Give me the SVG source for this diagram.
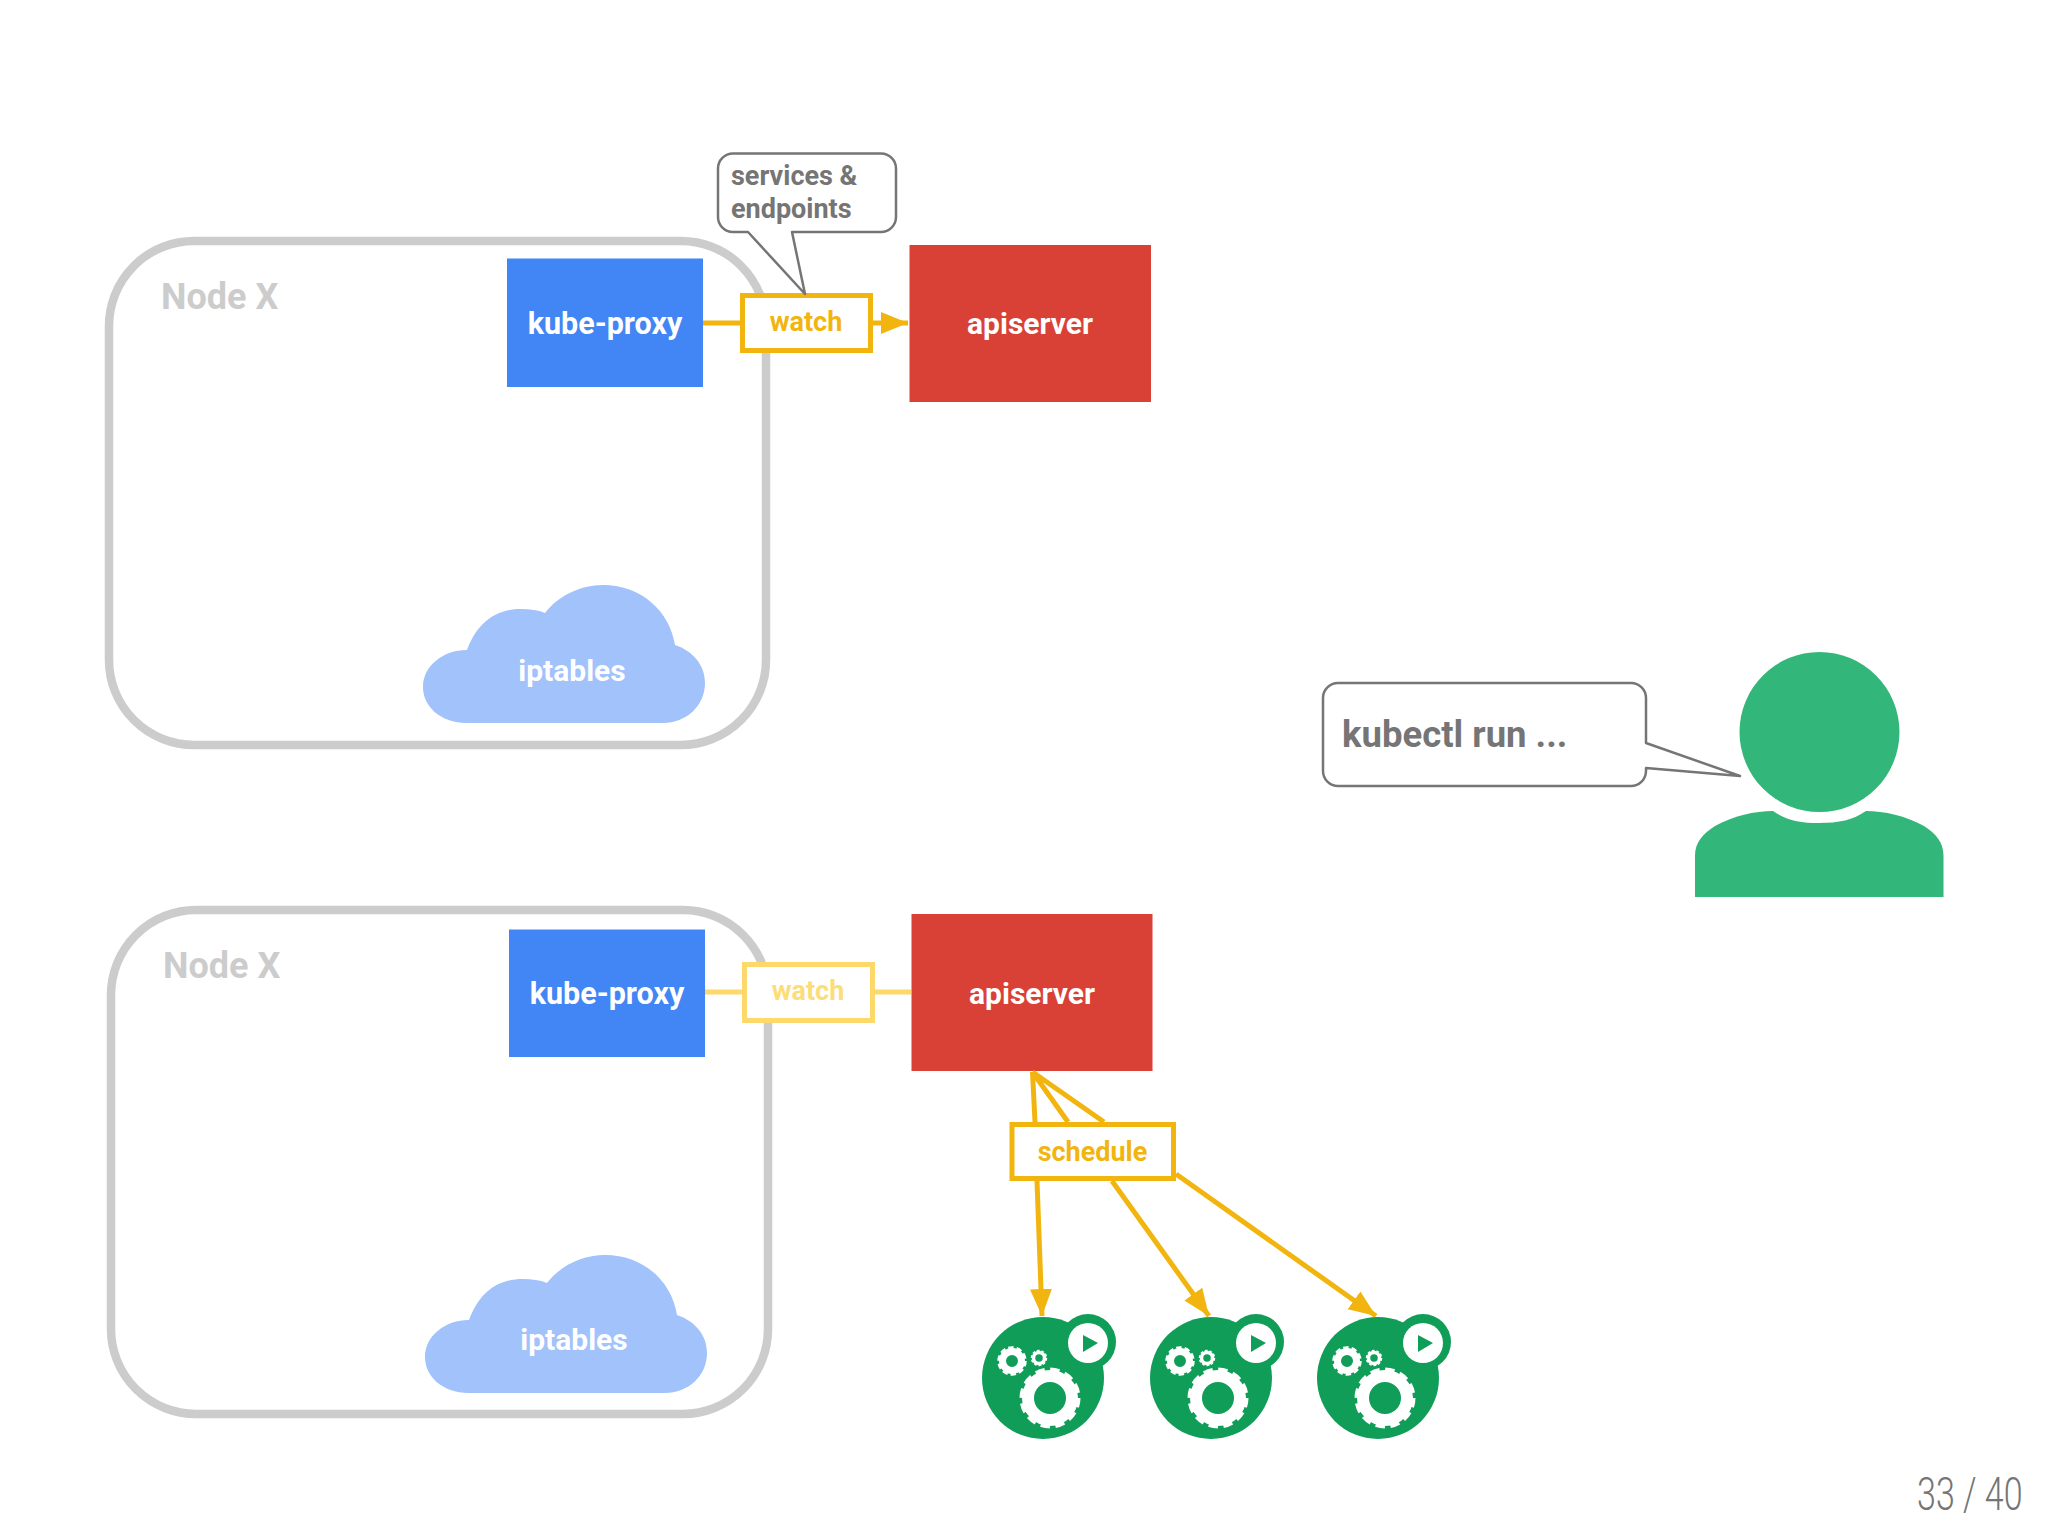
<svg xmlns="http://www.w3.org/2000/svg" xmlns:xlink="http://www.w3.org/1999/xlink" width="2048" height="1537" viewBox="0 0 2048 1537">
<style>
text{font-family:Roboto,"Liberation Sans",sans-serif;font-weight:700}
.frame{fill:none;stroke:#ccc;stroke-width:8.500}
.nodex{fill:#ccc;font-size:36px}
.proxy{fill:#4285f4}
.api{fill:#d94136}
.cloud{fill:#a1c2fa}
.w{fill:#fff;font-size:30px;text-anchor:middle}
.wk{fill:#fff;font-size:30.500px;text-anchor:middle}
.wb{fill:#fff;font-size:30px;text-anchor:middle}
.amber{fill:none;stroke:#f2b50f;stroke-width:5}
.amberbox{fill:#fff;stroke:#f2b50f;stroke-width:5}
.ambert{fill:#f2b50f;font-size:27px;text-anchor:middle}
.pale{fill:none;stroke:#fdd96b;stroke-width:5}
.palebox{fill:#fff;stroke:#fdd96b;stroke-width:5}
.palet{fill:#fddd78;font-size:27px;text-anchor:middle}
.call{fill:#fff;stroke:#757575;stroke-width:2.500;stroke-linejoin:round}
.callt{fill:#757575;font-size:27px}
.gr{fill:none;stroke:#fff}
</style>
<defs>
<marker id="arr" markerUnits="userSpaceOnUse" markerWidth="28" markerHeight="24" refX="27" refY="11" orient="auto"><path d="M0 0L27 11L0 22Z" fill="#f2b50f"/></marker>
<g id="cloudshape"><path class="cloud" d="M467 723C440 723 423 706 423 687C423 666 443 650 467 650C476 626 492 609 521 609C530 609 538 610 545 613C558 596 580 585 603 585C642 585 670 612 675 645C693 651 705 665 705 683C705 706 686 723 663 723Z"/></g>
<g id="pod">
<circle cx="1043" cy="1378" r="61" fill="#0f9d58"/>
<circle cx="1088" cy="1342" r="28" fill="#0f9d58"/>
<circle cx="1088" cy="1343" r="20" fill="#fff"/>
<path d="M1083 1335L1098 1343L1083 1352Z" fill="#0f9d58"/>
<circle class="gr" cx="1050" cy="1398" r="22" stroke-width="12"/>
<circle class="gr" cx="1050" cy="1398" r="28.500" stroke-width="4" stroke-dasharray="9.400 5.520"/>
<circle class="gr" cx="1012" cy="1361" r="9.500" stroke-width="7"/>
<circle class="gr" cx="1012" cy="1361" r="13.500" stroke-width="2.500" stroke-dasharray="5.500 2.980"/>
<circle class="gr" cx="1039" cy="1358" r="5.500" stroke-width="3.500"/>
<circle class="gr" cx="1039" cy="1358" r="7.500" stroke-width="1.500" stroke-dasharray="2.800 1.900"/>
</g>
</defs>
<rect width="2048" height="1537" fill="#fff"/>

<g id="node-x-top">
<rect class="frame" x="109" y="241" width="657" height="504" rx="85"/>
<text class="nodex" x="161" y="309">Node X</text>
</g>
<g id="kube-proxy-top">
<rect class="proxy" x="507" y="258.500" width="196" height="128.500"/>
<text class="wk" x="605" y="334">kube-proxy</text>
</g>
<g id="iptables-top">
<use xlink:href="#cloudshape" href="#cloudshape"/>
<text class="w" x="572" y="681">iptables</text>
</g>
<g id="apiserver-top">
<rect class="api" x="909.500" y="245" width="241.500" height="157"/>
<text class="wb" x="1030" y="334">apiserver</text>
</g>

<g id="node-x-bottom">
<rect class="frame" x="111" y="910" width="657" height="504" rx="85"/>
<text class="nodex" x="163" y="978">Node X</text>
</g>
<g id="kube-proxy-bottom">
<rect class="proxy" x="509" y="929.500" width="196" height="127.500"/>
<text class="wk" x="607" y="1004">kube-proxy</text>
</g>
<g id="iptables-bottom">
<use xlink:href="#cloudshape" href="#cloudshape" x="2" y="670"/>
<text class="w" x="574" y="1350">iptables</text>
</g>
<g id="apiserver-bottom">
<rect class="api" x="911.500" y="914" width="241" height="157"/>
<text class="wb" x="1032" y="1004">apiserver</text>
</g>

<g id="connectors">
<path class="amber" d="M703 323H740"/>
<path class="amber" d="M873 323H908" marker-end="url(#arr)"/>
<path class="pale" d="M705 992H742M875 992H911"/>
<path class="amber" d="M1032.500 1072L1035 1122M1032.500 1072L1068 1122M1032.500 1072L1104 1122"/>
<path class="amber" d="M1037 1181L1042 1316" marker-end="url(#arr)"/>
<path class="amber" d="M1112 1181L1209 1316" marker-end="url(#arr)"/>
<path class="amber" d="M1176 1174L1376 1316" marker-end="url(#arr)"/>
</g>

<g id="watch-top">
<rect class="amberbox" x="742.500" y="295.500" width="128" height="55"/>
<text class="ambert" x="806" y="331">watch</text>
</g>
<g id="watch-bottom">
<rect class="palebox" x="744.500" y="964.500" width="128" height="56"/>
<text class="palet" x="808" y="1000">watch</text>
</g>
<g id="schedule">
<rect class="amberbox" x="1012" y="1124.500" width="161.500" height="54"/>
<text class="ambert" x="1092.500" y="1161">schedule</text>
</g>

<g id="callout-services">
<path class="call" d="M733 153.500H881A15 15 0 0 1 896 168.500V217A15 15 0 0 1 881 232H792L805 294L748 232H733A15 15 0 0 1 718 217V168.500A15 15 0 0 1 733 153.500Z"/>
<text class="callt" x="731" y="185">services &amp;</text>
<text class="callt" x="731" y="218">endpoints</text>
</g>
<g id="callout-kubectl">
<path class="call" d="M1338 683H1631A15 15 0 0 1 1646 698V743L1740 776L1646 768V771A15 15 0 0 1 1631 786H1338A15 15 0 0 1 1323 771V698A15 15 0 0 1 1338 683Z"/>
<text x="1342" y="747" fill="#757575" font-size="36.500">kubectl run ...</text>
</g>
<g id="user">
<circle cx="1819.500" cy="732" r="80" fill="#33b679"/>
<path d="M1695 897V856C1695 842 1703 834 1715 826C1733 816 1755 811 1773 811C1786 820 1800 823 1819 823C1839 823 1853 820 1866 811C1884 811 1906 816 1924 826C1936 834 1943.500 842 1943.500 856V897Z" fill="#33b679"/>
</g>
<g id="pod-1"><use xlink:href="#pod" href="#pod"/></g>
<g id="pod-2"><use xlink:href="#pod" href="#pod" x="168"/></g>
<g id="pod-3"><use xlink:href="#pod" href="#pod" x="335"/></g>
<text transform="translate(1917 1510) scale(.74 1)" fill="#757575" font-size="46" style="font-weight:300">33 / 40</text>
</svg>
